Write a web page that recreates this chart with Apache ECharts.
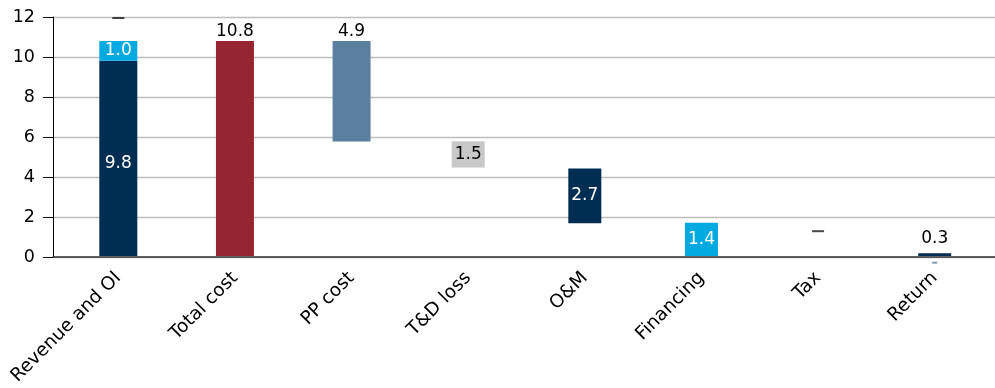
<!DOCTYPE html>
<html>
<head>
<meta charset="utf-8">
<script src="https://cdn.jsdelivr.net/npm/echarts@6/dist/echarts.min.js"></script>
<style>html,body{margin:0;padding:0;background:#fff}#c{width:995px;height:388px}</style>
</head>
<body>
<div id="c"></div>
<script>
// ---- data ----
const categories = ['Revenue and OI', 'Total cost', 'PP cost', 'T&D loss', 'O&M', 'Financing', 'Tax', 'Return'];
const yTicks = [0, 2, 4, 6, 8, 10, 12];
// wide bars (first three columns)
const wideBase     = [0,   0,    5.75, '-', '-', '-', '-', '-'];
const revenue      = [9.8, '-',  '-',  '-', '-', '-', '-', '-'];
const otherIncome  = [1.0, '-',  '-',  '-', '-', '-', '-', '-'];
const totalCost    = ['-', 10.8, '-',  '-', '-', '-', '-', '-'];
const ppCost       = ['-', '-',  5.05, '-', '-', '-', '-', '-'];
// narrow bars (later columns)
const narrowBase   = ['-', '-', '-', 4.45, 1.65, 0,    '-', 0];
const tdLoss       = ['-', '-', '-', 1.32, '-',  '-',  '-', '-'];
const om           = ['-', '-', '-', '-',  2.75, '-',  '-', '-'];
const financing    = ['-', '-', '-', '-',  '-',  1.68, '-', '-'];
const ret          = ['-', '-', '-', '-',  '-',  '-',  '-', 0.14];
// label texts
const labelText = {
  revenue: '9.8', otherIncome: '1.0', totalCost: '10.8', ppCost: '4.9',
  tdLoss: '1.5', om: '2.7', financing: '1.4', ret: '0.3'
};
// dash markers (zero-value labels)
const dashPoints = [[0, 11.95], [6, 1.25]];
const smallDashPoints = [[7, -0.33]];

const FONT = 'DejaVu Sans';
const NAVY = '#002D52', LBLUE = '#00A9E0', RED = '#952631', SLATE = '#5B7F9F', GREY = '#C8C8C8';

function bar(name, data, color, xIdx, width, lbl) {
  return {
    name, type: 'bar', data, stack: 's' + xIdx, xAxisIndex: xIdx, yAxisIndex: 1,
    barWidth: width, itemStyle: { color },
    label: Object.assign({ show: !!lbl, fontFamily: FONT, fontSize: 17 }, lbl || {})
  };
}

const chart = echarts.init(document.getElementById('c'), null, { renderer: 'canvas' });
chart.setOption({
  animation: false,
  grid: [
    { left: 53, right: 0, top: 17, bottom: 131 },
    { left: 60, right: 2, top: 17, bottom: 131 }
  ],
  xAxis: [
    { type: 'category', gridIndex: 1, data: categories,
      axisLine: { show: false }, axisTick: { show: false },
      axisLabel: { rotate: 45, fontFamily: FONT, fontSize: 18.5, color: '#000', margin: 19, interval: 0 } },
    { type: 'category', gridIndex: 1, data: categories, show: false },
    { type: 'value', gridIndex: 0, min: 0, max: 1,
      axisLine: { show: true, onZero: false, lineStyle: { color: '#333', width: 1.5 } },
      axisTick: { show: false }, axisLabel: { show: false }, splitLine: { show: false } }
  ],
  yAxis: [
    { type: 'value', gridIndex: 0, min: 0, max: 12, interval: 2,
      axisLine: { show: true, lineStyle: { color: '#000', width: 1 } },
      axisTick: { show: true, length: 10, lineStyle: { color: '#000' } },
      axisLabel: { fontFamily: FONT, fontSize: 17.5, color: '#000', margin: 18,
        formatter: v => yTicks.includes(v) ? String(v) : '' },
      splitLine: { show: true, lineStyle: { color: '#BDBDBD', width: 1.3 } } },
    { type: 'value', gridIndex: 1, min: 0, max: 12, interval: 2, show: false, splitLine: { show: false } }
  ],
  series: [
    bar('wideBase', wideBase, 'rgba(0,0,0,0)', 0, 38, null),
    bar('Revenue', revenue, NAVY, 0, 38, { position: 'inside', color: '#fff', offset: [0, 5], formatter: () => labelText.revenue }),
    bar('Other income', otherIncome, LBLUE, 0, 38, { position: 'inside', color: '#fff', formatter: () => labelText.otherIncome }),
    bar('Total cost', totalCost, RED, 0, 38, { position: 'top', distance: 1, color: '#000', formatter: () => labelText.totalCost }),
    bar('PP cost', ppCost, SLATE, 0, 38, { position: 'top', distance: 1, color: '#000', formatter: () => labelText.ppCost }),
    bar('narrowBase', narrowBase, 'rgba(0,0,0,0)', 1, 33, null),
    bar('T&D loss', tdLoss, GREY, 1, 33, { position: 'inside', color: '#000', formatter: () => labelText.tdLoss }),
    bar('O&M', om, NAVY, 1, 33, { position: 'inside', color: '#fff', formatter: () => labelText.om }),
    bar('Financing', financing, LBLUE, 1, 33, { position: 'inside', color: '#fff', formatter: () => labelText.financing }),
    bar('Return', ret, NAVY, 1, 33, { position: 'top', distance: 6, color: '#000', formatter: () => labelText.ret }),
    { type: 'scatter', xAxisIndex: 0, yAxisIndex: 1, data: dashPoints, clip: false, silent: true,
      symbol: 'rect', symbolSize: [12, 2], itemStyle: { color: '#1a1a1a' } },
    { type: 'scatter', xAxisIndex: 0, yAxisIndex: 1, data: smallDashPoints, clip: false, silent: true,
      symbol: 'rect', symbolSize: [5, 2], itemStyle: { color: SLATE } }
  ]
});
</script>
</body>
</html>
